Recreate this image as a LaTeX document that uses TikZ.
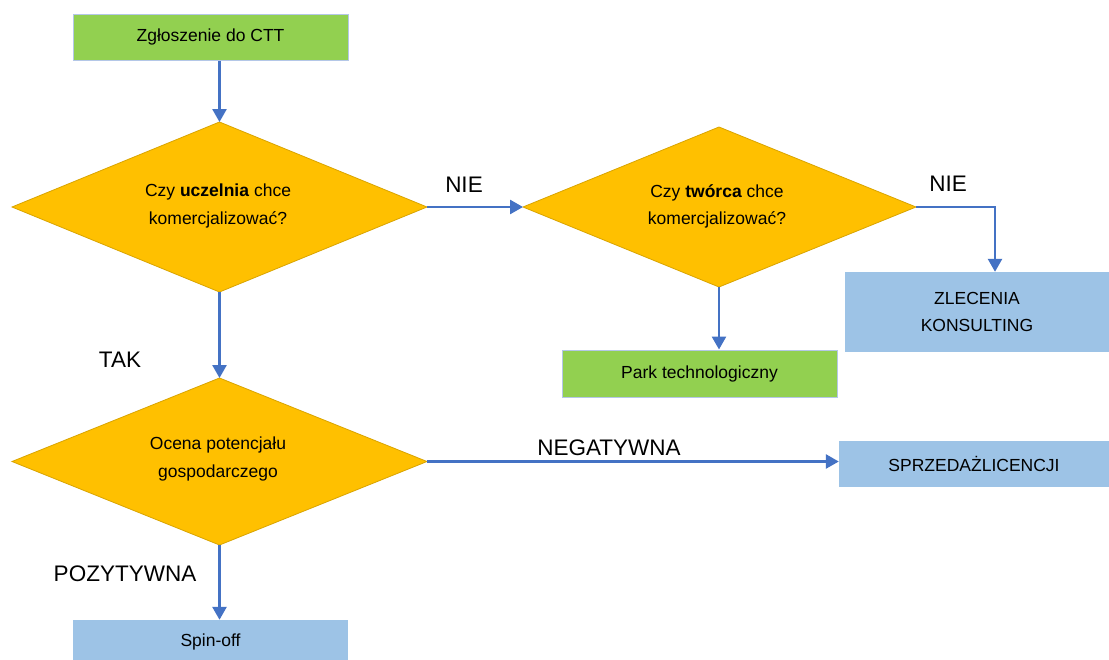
\documentclass[tikz,border=0pt]{standalone}
\usepackage{fontspec}
\setmainfont{Liberation Sans}
\usetikzlibrary{arrows.meta}
\definecolor{boxgreen}{HTML}{92D050}
\definecolor{decorange}{HTML}{FFC000}
\definecolor{decedge}{HTML}{D9A400}
\definecolor{boxblue}{HTML}{9DC3E6}
\definecolor{boxedge}{HTML}{B4C7E7}
\definecolor{arrowblue}{HTML}{4472C4}
\tikzset{
  greenbox/.style={rectangle, draw=boxedge, line width=1pt, fill=boxgreen, inner sep=0pt, font=\fontsize{17.5}{21}\selectfont},
  bluebox/.style={rectangle, fill=boxblue, inner sep=0pt, align=center, font=\fontsize{17.5}{27}\selectfont},
  decfill/.style={draw=decedge, line width=0.8pt, fill=decorange, line join=miter},
  dectext/.style={inner sep=0pt, align=center, font=\fontsize{17.5}{27.5}\selectfont},
  flow/.style={draw=arrowblue, line width=2.6pt, -{Triangle[width=14pt,length=13pt]}},
  lbl/.style={font=\fontsize{22.5}{26}\selectfont, inner sep=0pt}
}
\begin{document}
\begin{tikzpicture}[x=1pt,y=-1pt]
\clip (0,0) rectangle (1109,659);
\fill[white] (0,0) rectangle (1109,659);
% decision diamonds (tips as named coordinates)
\coordinate (d1n) at (219.5,122); \coordinate (d1s) at (219.5,292);
\coordinate (d1w) at (12,207);    \coordinate (d1e) at (427,207);
\coordinate (d2n) at (719,127);   \coordinate (d2s) at (719,287);
\coordinate (d2w) at (523,207);   \coordinate (d2e) at (916,207);
\coordinate (d3n) at (219.5,378); \coordinate (d3s) at (219.5,545);
\coordinate (d3w) at (12,461.5);  \coordinate (d3e) at (427,461.5);
\path[decfill] (d1n) -- (d1e) -- (d1s) -- (d1w) -- cycle;
\path[decfill] (d2n) -- (d2e) -- (d2s) -- (d2w) -- cycle;
\path[decfill] (d3n) -- (d3e) -- (d3s) -- (d3w) -- cycle;
\node[dectext] (d1) at (218,206) {Czy \textbf{uczelnia} chce\\komercjalizować?};
\node[dectext] (d2) at (717,206.5) {Czy \textbf{twórca} chce\\komercjalizować?};
\node[dectext] (d3) at (218,459) {Ocena potencjału\\gospodarczego};
% boxes
\node[greenbox, minimum width=275pt, minimum height=46pt] (start) at (210.5,37) {Zgłoszenie do CTT};
\node[bluebox, minimum width=264pt, minimum height=80pt] (zlec) at (977,312) {ZLECENIA\\KONSULTING};
\node[greenbox, minimum width=275pt, minimum height=47pt] (park) at (699.5,373.5) {Park technologiczny};
\node[bluebox, minimum width=270pt, minimum height=46pt] (sprz) at (974,464) {SPRZEDAŻLICENCJI};
\node[bluebox, minimum width=275pt, minimum height=44pt] (spin) at (210.5,642) {Spin-off};
\coordinate (corner) at (995,207);
% connectors
\draw[flow] (start.south -| d1n) -- (d1n);
\draw[flow] (d1e) -- (d2w);
\draw[flow] (d2e) -- (corner) -- (zlec.north -| corner);
\draw[flow] (d2s) -- (park.north -| d2s);
\draw[flow] (d1s) -- (d3n);
\draw[flow] (d3e) -- (sprz.west |- d3e);
\draw[flow] (d3s) -- (spin.north -| d3s);
% labels
\node[lbl] (nie1) at (464,185) {NIE};
\node[lbl] (nie2) at (948,184) {NIE};
\node[lbl] (tak) at (120,360) {TAK};
\node[lbl] (neg) at (609,448) {NEGATYWNA};
\node[lbl] (poz) at (125,574) {POZYTYWNA};
\end{tikzpicture}
\end{document}
